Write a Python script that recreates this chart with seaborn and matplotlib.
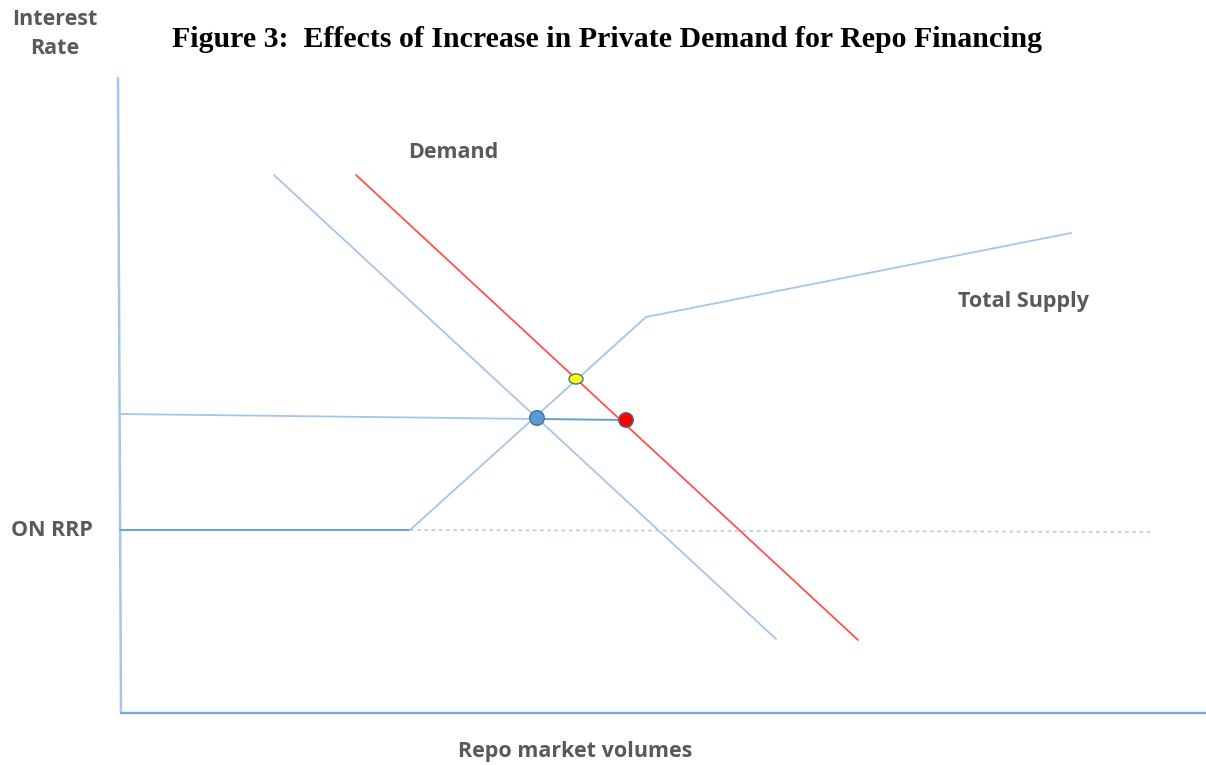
import numpy as np
import pandas as pd
import seaborn as sns
import matplotlib.pyplot as plt
from matplotlib.patches import Ellipse

# curve data (volume, rate) in drawing units
axis_x = [118, 121, 1206]
axis_y = [687, 52, 52]
old_demand_x = [274, 776]
old_demand_y = [590, 126]
new_demand_x = [356, 858]
new_demand_y = [590, 125]
supply_x = [120, 410, 646, 1071]
supply_y = [235, 235, 448, 532]
onrrp_x = [410, 1152]
onrrp_y = [235, 233]
eq_old_x = [120, 537]
eq_old_y = [351, 346]
eq_new_x = [537, 626]
eq_new_y = [346, 345]
points = pd.DataFrame({
    'x': [537, 626],
    'y': [347, 345],
    'kind': ['old', 'new'],
})
shift_x, shift_y = 576, 386

sns.set_theme(style='white')
fig = plt.figure(figsize=(12.06, 7.65), dpi=100)
ax = fig.add_axes([0, 0, 1, 1])
ax.set_xlim(0, 1206)
ax.set_ylim(0, 765)
ax.axis('off')

light = '#a3c6ea'
mid = '#5b9bd5'

def seg(x, y, color, lw=1.3, ls='-'):
    sns.lineplot(x=x, y=y, ax=ax, sort=False, color=color, lw=lw, linestyle=ls,
                 estimator=None)

seg(axis_x, axis_y, light, lw=1.8)
seg(axis_x[1:], axis_y[1:], '#6fa6da', lw=1.3)
seg(old_demand_x, old_demand_y, light)
seg(new_demand_x, new_demand_y, '#ff5050')
seg(supply_x[:2], supply_y[:2], mid)
seg(supply_x[1:], supply_y[1:], light)
seg(onrrp_x, onrrp_y, '#b5d0ee', lw=1.3, ls=(0, (2, 2)))
seg(eq_old_x, eq_old_y, light)
seg(eq_new_x, eq_new_y, mid)

sns.scatterplot(data=points, x='x', y='y', hue='kind', ax=ax, s=110,
                palette={'old': '#5b9bd5', 'new': '#ff0000'},
                edgecolor='#41719c', linewidth=1, legend=False, zorder=5)
ax.add_patch(Ellipse((shift_x, shift_y), 14, 10, facecolor='#ffff00',
                     edgecolor='#41719c', lw=1, zorder=5))

lab = dict(color='#595959', fontfamily='Open Sans', fontweight='bold', fontsize=15.5)
ax.text(55, 731, 'Interest\nRate', ha='center', va='center', linespacing=1.45, **lab)
ax.text(52, 234, 'ON RRP', ha='center', va='center', **lab)
ax.text(453, 613, 'Demand', ha='center', va='center', **lab)
ax.text(1024, 464, 'Total Supply', ha='center', va='center', **lab)
ax.text(575, 13, 'Repo market volumes', ha='center', va='center', **lab)
ax.text(607, 726, 'Figure 3:  Effects of Increase in Private Demand for Repo Financing',
        ha='center', va='center', fontfamily='Liberation Serif', fontweight='bold',
        fontsize=21.5, color='black')

fig.savefig('out.png', dpi=100)
